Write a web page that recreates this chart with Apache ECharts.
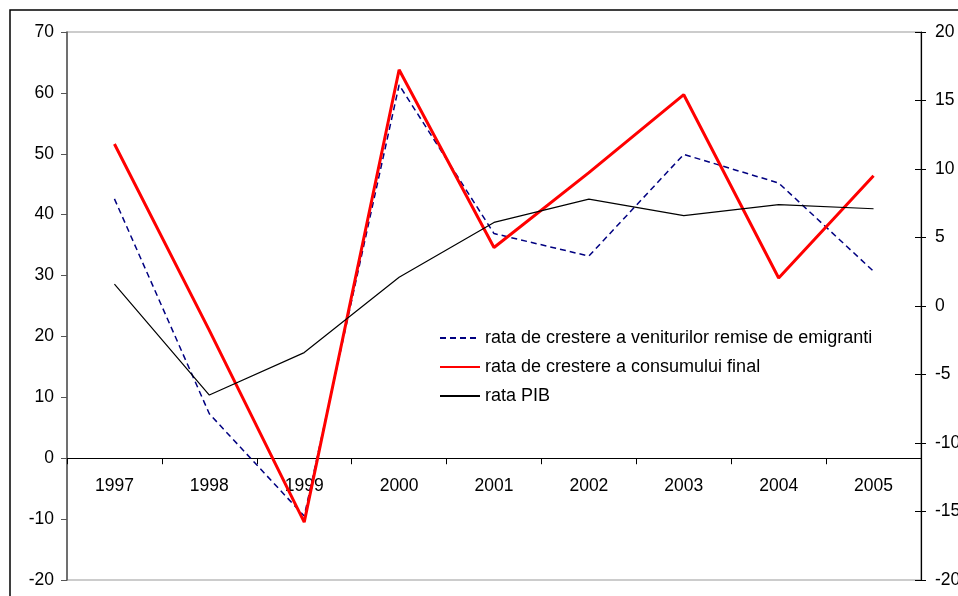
<!DOCTYPE html>
<html>
<head>
<meta charset="utf-8">
<script src="https://cdn.jsdelivr.net/npm/echarts@6/dist/echarts.min.js"></script>
<style>html,body{margin:0;padding:0;background:#fff;}#c{width:958px;height:596px;}</style>
</head>
<body>
<div id="c"></div>
<script>
var years = ['1997','1998','1999','2000','2001','2002','2003','2004','2005'];
var remise = [42.6, 7.3, -9.5, 61.3, 36.9, 33.2, 49.9, 45.2, 30.7];
var consum = [51.6, 21.0, -10.5, 63.8, 34.6, 46.9, 59.7, 29.6, 46.4];
var pib = [1.6, -6.5, -3.4, 2.1, 6.1, 7.8, 6.6, 7.4, 7.1];
var leftTicks = {min: -20, max: 70, interval: 10};
var rightTicks = {min: -20, max: 20, interval: 5};
var names = ['rata de crestere a veniturilor remise de emigranti', 'rata de crestere a consumului final', 'rata PIB'];

var font = 'Liberation Sans, Arial, sans-serif';
var gridTop = 32, gridBottomPx = 580, H = 596;
var plotH = gridBottomPx - gridTop;
// pixel distance from the bottom of the plot to the value 0 of the left axis
var zeroOffset = plotH * (0 - leftTicks.min) / (leftTicks.max - leftTicks.min);

var chart = echarts.init(document.getElementById('c'));
chart.setOption({
  animation: false,
  backgroundColor: '#fff',
  graphic: [{
    type: 'rect',
    shape: {x: 10, y: 10, width: 1000, height: 700},
    style: {fill: 'none', stroke: '#000', lineWidth: 1.5},
    z: -1, silent: true
  }],
  grid: {left: 67, right: 37, top: gridTop, bottom: H - gridBottomPx, outerBoundsMode: 'none', containLabel: false,
         show: true, borderColor: '#999', borderWidth: 1.2, backgroundColor: 'transparent'},
  legend: {
    orient: 'vertical', left: 434, top: 324,
    itemWidth: 40, itemHeight: 16, itemGap: 11,
    itemStyle: {opacity: 0},
    textStyle: {fontFamily: font, fontSize: 18, color: '#000'},
    data: names
  },
  xAxis: {
    type: 'category', data: years, boundaryGap: true,
    offset: -zeroOffset,
    axisLine: {onZero: false, lineStyle: {color: '#000', width: 1.2}},
    axisTick: {show: true, length: 6, lineStyle: {color: '#000'}},
    axisLabel: {fontFamily: font, fontSize: 17.5, color: '#000', margin: 19},
    splitLine: {show: false}
  },
  yAxis: [{
    type: 'value', position: 'left', min: leftTicks.min, max: leftTicks.max, interval: leftTicks.interval,
    axisLine: {show: true, lineStyle: {color: '#555', width: 1.5}},
    axisTick: {show: true, length: 6, lineStyle: {color: '#555'}},
    axisLabel: {fontFamily: font, fontSize: 17.5, color: '#000', margin: 13},
    splitLine: {show: false}
  }, {
    type: 'value', position: 'right', min: rightTicks.min, max: rightTicks.max, interval: rightTicks.interval,
    axisLine: {show: true, lineStyle: {color: '#000', width: 1.2}},
    axisTick: {show: true, length: 5, lineStyle: {color: '#000'}},
    axisLabel: {fontFamily: font, fontSize: 17.5, color: '#000', margin: 14},
    splitLine: {show: false}
  }, {
    type: 'value', position: 'right', min: rightTicks.min, max: rightTicks.max, interval: rightTicks.interval,
    axisLine: {show: false},
    axisTick: {show: true, inside: true, length: 6, lineStyle: {color: '#000'}},
    axisLabel: {show: false},
    splitLine: {show: false}
  }],
  series: [{
    name: names[0], type: 'line', yAxisIndex: 0, data: remise, symbol: 'none',
    lineStyle: {color: '#000080', width: 1.5, type: [6, 4]}, itemStyle: {color: '#000080'}
  }, {
    name: names[1], type: 'line', yAxisIndex: 0, data: consum, symbol: 'none',
    lineStyle: {color: '#ff0000', width: 3}, itemStyle: {color: '#ff0000'}
  }, {
    name: names[2], type: 'line', yAxisIndex: 1, data: pib, symbol: 'none',
    lineStyle: {color: '#000', width: 1.2}, itemStyle: {color: '#000'}
  }]
});
</script>
</body>
</html>
